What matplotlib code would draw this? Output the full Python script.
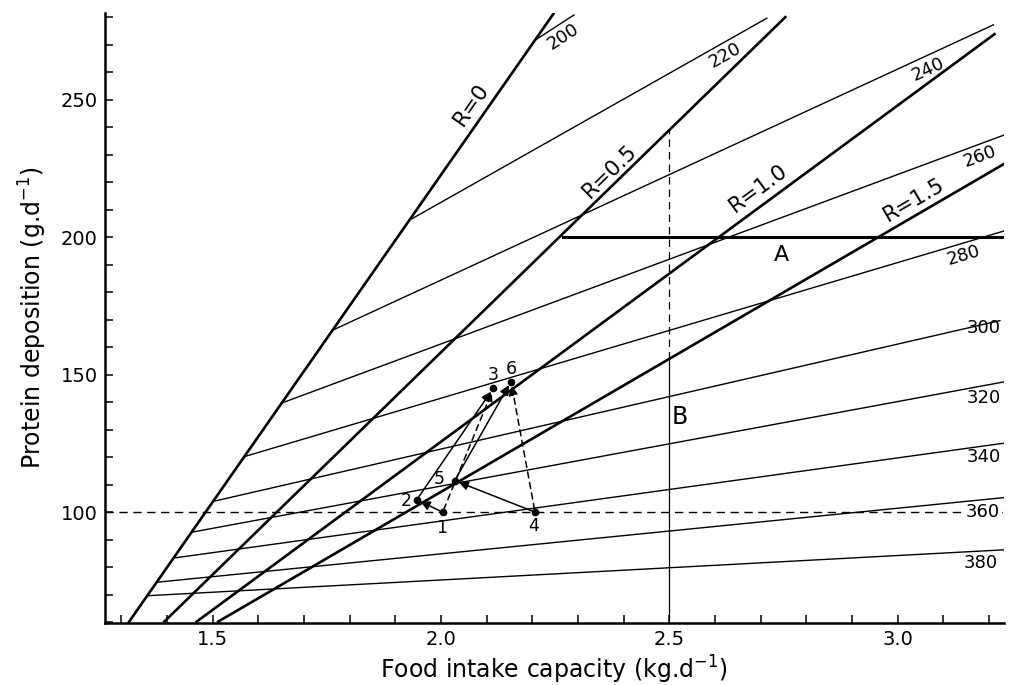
import matplotlib
matplotlib.use("Agg")
import matplotlib.pyplot as plt
from matplotlib.ticker import MultipleLocator
import numpy as np

# --- R lines (thick) ---
r_labels = ["R=0", "R=0.5", "R=1.0", "R=1.5"]
r_x0 = [1.317, 1.394, 1.465, 1.512]
r_y0 = [60.2, 60.2, 60.2, 60.2]
r_x1 = [2.246, 2.754, 3.212, 3.233]
r_y1 = [281.3, 280.1, 273.9, 226.7]
r_text_x = [2.067, 2.370, 2.695, 3.035]
r_text_y = [248.2, 224.1, 218.0, 213.6]

# --- thin lines, labelled 200 ... 380, starting on R=0 ---
iso_labels = ["200", "220", "240", "260", "280", "300", "320", "340", "360", "380"]
iso_x0 = [2.2095, 1.9357, 1.7624, 1.651, 1.569, 1.5006, 1.4536, 1.414, 1.377, 1.3565]
iso_y0 = [272.1, 206.7, 166.2, 139.7, 120.2, 103.9, 92.7, 83.3, 74.5, 69.6]
iso_x1 = [2.2912, 2.7134, 3.2098, 3.233, 3.233, 3.224, 3.233, 3.233, 3.233, 3.233]
iso_y1 = [280.9, 279.7, 277.3, 237.2, 202.3, 169.7, 147.4, 125.1, 105.3, 86.3]
iso_text_x = [2.268, 2.622, 3.067, 3.181, 3.144, 3.188, 3.188, 3.188, 3.187, 3.181]
iso_text_y = [273.0, 266.4, 261.3, 229.4, 193.6, 166.9, 141.5, 120.2, 100.0, 81.4]
iso_rotated = [True, True, True, True, True, False, False, False, False, False]

# --- constraint lines A (protein deposition) and B (food intake) ---
a_x = [2.266, 3.233]
a_y = [200.0, 200.0]
b_x = 2.5
b_solid_y = [59.8, 155.9]
b_dash_y = [155.9, 239.4]
ref_y = 100.0

# --- numbered points and moves between them ---
pt_names = ["1", "2", "3", "4", "5", "6"]
pt_x = [2.0036, 1.9467, 2.1145, 2.2058, 2.030, 2.1532]
pt_y = [100.0, 104.5, 145.1, 100.0, 111.5, 147.5]
pt_text_x = [2.0014, 1.9247, 2.1131, 2.2021, 1.9962, 2.1548]
pt_text_y = [94.2, 103.9, 149.9, 94.8, 112.1, 152.0]
move_from = [1, 2, 1, 4, 5, 4]
move_to = [2, 3, 3, 5, 6, 6]
move_dashed = [False, False, True, False, False, True]


def screen_angle(ax, x0, y0, x1, y1):
    p = ax.transData.transform([(x0, y0), (x1, y1)])
    return np.degrees(np.arctan2(p[1, 1] - p[0, 1], p[1, 0] - p[0, 0]))


fig = plt.figure(figsize=(10.1, 6.85), dpi=100)
ax = fig.add_axes([0.1035, 0.0910, 0.8906, 0.8896])
ax.set_xlim(1.263, 3.233)
ax.set_ylim(59.8, 281.5)

for side in ["top", "right"]:
    ax.spines[side].set_visible(False)
for side in ["left", "bottom"]:
    ax.spines[side].set_linewidth(1.8)

ax.set_xticks([1.5, 2.0, 2.5, 3.0])
ax.set_yticks([100, 150, 200, 250])
ax.xaxis.set_minor_locator(MultipleLocator(0.1))
ax.yaxis.set_minor_locator(MultipleLocator(10))
ax.tick_params(which="both", direction="in", length=6, width=1.1, labelsize=14, pad=5)

ax.set_xlabel(r"Food intake capacity (kg.d$^{-1}$)", fontsize=17, labelpad=4)
ax.set_ylabel(r"Protein deposition (g.d$^{-1}$)", fontsize=17, labelpad=8)

# thin lines
for i, lab in enumerate(iso_labels):
    ax.plot([iso_x0[i], iso_x1[i]], [iso_y0[i], iso_y1[i]], color="black", lw=1.0)
    rot = screen_angle(ax, iso_x0[i], iso_y0[i], iso_x1[i], iso_y1[i]) if iso_rotated[i] else 0
    bbox = None
    if lab == "360":
        bbox = dict(facecolor="white", edgecolor="none", pad=1)
    ax.text(iso_text_x[i], iso_text_y[i], lab, fontsize=13, rotation=rot,
            ha="center", va="center", rotation_mode="anchor", bbox=bbox, zorder=4)

# R lines
for i, lab in enumerate(r_labels):
    ax.plot([r_x0[i], r_x1[i]], [r_y0[i], r_y1[i]], color="black", lw=1.9)
    rot = screen_angle(ax, r_x0[i], r_y0[i], r_x1[i], r_y1[i])
    ax.text(r_text_x[i], r_text_y[i], lab, fontsize=15.5, rotation=rot,
            ha="center", va="center", rotation_mode="anchor")

# A and B
ax.plot(a_x, a_y, color="black", lw=2.2)
ax.text(2.746, 193.6, "A", fontsize=16, ha="center", va="center")
ax.plot([b_x, b_x], b_solid_y, color="black", lw=0.9)
ax.plot([b_x, b_x], b_dash_y, color="black", lw=0.9, ls=(0, (6, 4)))
ax.text(2.523, 134.8, "B", fontsize=17, ha="center", va="center")

# reference dashed line at 100
ax.axhline(ref_y, color="black", lw=1.0, ls=(0, (6, 4)), zorder=1)

# points and moves
ax.plot(pt_x, pt_y, "o", color="black", ms=4.5, zorder=5)
for i, name in enumerate(pt_names):
    ax.text(pt_text_x[i], pt_text_y[i], name, fontsize=12.5, ha="center", va="center")

for f, t, d in zip(move_from, move_to, move_dashed):
    ax.annotate("", xy=(pt_x[t - 1], pt_y[t - 1]), xytext=(pt_x[f - 1], pt_y[f - 1]),
                arrowprops=dict(arrowstyle="-|>", color="black", lw=1.1,
                                ls=(0, (4, 3)) if d else "-",
                                shrinkA=2, shrinkB=3, mutation_scale=14))

fig.savefig("out.png", dpi=100)
